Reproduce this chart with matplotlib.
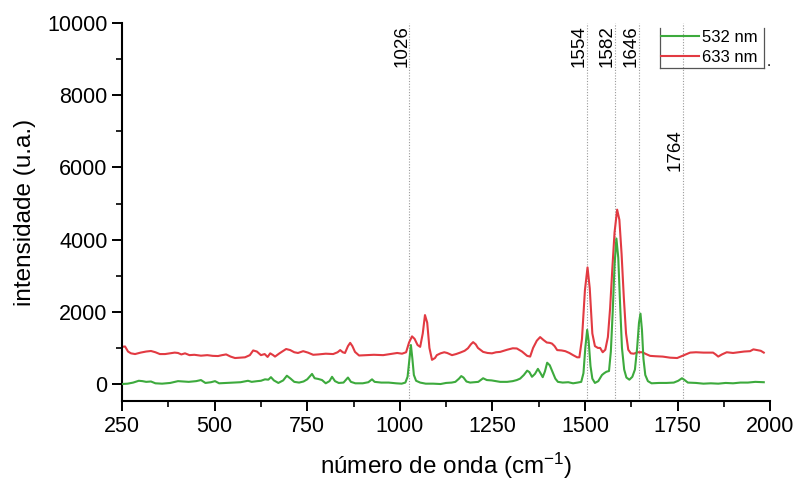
import matplotlib
matplotlib.use("Agg")
import matplotlib.pyplot as plt
from matplotlib.lines import Line2D
from matplotlib.ticker import MultipleLocator

plt.rcParams['font.family'] = ['Liberation Sans', 'DejaVu Sans']
plt.rcParams['mathtext.default'] = 'regular'

# ---- data ----
red_x = [250, 258, 266, 274, 285, 300, 315, 328, 340, 352, 366, 380, 392, 401, 410, 420, 432, 445, 463, 480,
         495, 509, 520, 531, 543, 555, 570, 582, 595, 604, 614, 625, 635, 643, 650, 658, 663, 675, 693, 704,
         715, 725, 739, 752, 766, 780, 800, 820, 832, 839, 846, 852, 860, 866, 872, 879, 890, 910, 930, 955,
         974, 993, 1006, 1017, 1025, 1033, 1040, 1048, 1055, 1062, 1068, 1074, 1080, 1087, 1095, 1100, 1110,
         1120, 1128, 1141, 1152, 1163, 1175, 1184, 1192, 1198, 1205, 1211, 1225, 1237, 1249, 1260, 1271, 1290,
         1305, 1316, 1330, 1344, 1352, 1360, 1370, 1379, 1388, 1397, 1405, 1411, 1418, 1425, 1437, 1447, 1458,
         1468, 1479, 1485, 1492, 1500, 1507, 1513, 1520, 1527, 1535, 1541, 1548, 1555, 1562, 1568, 1574, 1580,
         1587, 1593, 1599, 1605, 1611, 1617, 1624, 1632, 1642, 1655, 1665, 1676, 1690, 1710, 1730, 1749, 1765,
         1784, 1800, 1820, 1846, 1853, 1860, 1870, 1883, 1900, 1915, 1930, 1946, 1955, 1965, 1975, 1983]
red_y = [1030, 1040, 900, 850, 830, 870, 900, 915, 880, 830, 830, 850, 870, 860, 820, 850, 800, 810, 785, 800,
         780, 775, 800, 820, 760, 720, 730, 740, 800, 930, 900, 800, 830, 750, 850, 800, 760, 850, 970, 940,
         880, 860, 910, 870, 810, 820, 840, 830, 880, 940, 880, 860, 1050, 1140, 1050, 890, 790, 800, 810, 800,
         830, 860, 840, 880, 1150, 1320, 1250, 1080, 1030, 1400, 1910, 1700, 1000, 670, 720, 800, 850,
         880, 860, 800, 830, 870, 920, 990, 1100, 1160, 1100, 1000, 890, 860, 850, 880, 890, 950,
         990, 985, 900, 780, 760, 1000, 1200, 1300, 1220, 1150, 1140, 1120, 1050, 940, 930, 910, 860,
         800, 740, 740, 1250, 2600, 3230, 2650, 1400, 1050, 1000, 1000, 880, 950, 1300, 2100, 3200, 4200,
         4830, 4550, 3600, 2400, 1400, 950, 850, 840, 880, 880, 830, 780, 770, 760, 730, 720, 790,
         870, 880, 870, 870, 820, 760, 820, 880, 860, 880, 900, 910, 960, 940, 920, 870]

green_x = [250, 265, 280, 295, 305, 315, 328, 340, 358, 380, 401, 415, 430, 450, 463, 475, 490, 501, 512, 530,
           550, 570, 590, 600, 615, 625, 636, 645, 652, 660, 672, 685, 695, 705, 715, 728, 740, 750, 763, 770,
           780, 790, 800, 810, 817, 825, 835, 848, 860, 868, 880, 900, 915, 925, 932, 950, 970, 990, 1005, 1015,
           1021, 1026, 1030, 1034, 1038, 1044, 1055, 1070, 1090, 1110, 1125, 1140, 1150, 1160, 1166, 1172, 1180,
           1190, 1200, 1212, 1225, 1235, 1248, 1260, 1271, 1290, 1305, 1316, 1325, 1335, 1344, 1350, 1357, 1365,
           1373, 1380, 1386, 1392, 1398, 1405, 1414, 1420, 1427, 1440, 1455, 1468, 1480, 1490, 1496, 1501, 1506,
           1510, 1515, 1520, 1527, 1536, 1546, 1552, 1558, 1565, 1570, 1575, 1580, 1585, 1590, 1595, 1600, 1606,
           1612, 1620, 1628, 1635, 1641, 1646, 1650, 1654, 1658, 1663, 1670, 1680, 1700, 1720, 1740, 1752, 1762,
           1768, 1778, 1800, 1820, 1840, 1860, 1880, 1900, 1920, 1940, 1960, 1983]
green_y = [0, 10, 40, 90, 80, 60, 70, 20, 10, 30, 80, 70, 60, 80, 110, 30, 50, 80, 20, 30,
           40, 50, 90, 60, 80, 90, 130, 120, 190, 100, 30, 100, 230, 150, 60, 40, 70, 130, 280, 160,
           140, 110, 20, 80, 200, 80, 30, 40, 180, 60, 20, 20, 50, 130, 60, 40, 40, 20, 10, 40,
           200, 700, 1080, 700, 250, 90, 40, 10, 10, 0, 30, 40, 60, 150, 220, 180, 70,
           40, 50, 60, 160, 110, 100, 80, 60, 60, 80, 110, 150, 250, 370, 330, 200, 280,
           420, 300, 190, 350, 590, 520, 300, 150, 60, 40, 50, 20, 40, 60, 300, 1000, 1500,
           1200, 500, 150, 30, 80, 250, 300, 340, 360, 900, 2000, 3300, 4030, 3500, 2200, 1000, 400,
           180, 120, 200, 400, 1000, 1700, 1950, 1500, 700, 250, 80, 20, 30, 30, 40, 90, 160,
           120, 40, 30, 10, 20, 10, 30, 20, 40, 40, 60, 50]

peak_pos = [1026, 1505, 1582, 1646, 1764]
peak_labels = ["1026", "1554", "1582", "1646", "1764"]
peak_label_top = [9950, 9950, 9950, 9950, 7050]

series_labels = ["532 nm", "633 nm"]

# ---- figure ----
fig = plt.figure(figsize=(7.98, 4.84), dpi=100)
ax = fig.add_axes([0.153, 0.1715, 0.812, 0.781])

green_c = '#3daa3d'
red_c = '#e23a42'

for xp in peak_pos:
    ax.axvline(xp, color='#9a9a9a', lw=0.8, ls=(0, (1, 1.5)), zorder=1)

ax.plot(green_x, green_y, color=green_c, lw=1.5, zorder=3)
ax.plot(red_x, red_y, color=red_c, lw=1.5, zorder=2)

for xp, lab, yt in zip(peak_pos, peak_labels, peak_label_top):
    ax.text(xp + 2, yt, lab, rotation=90, ha='right', va='top', fontsize=13.5, color='black')

ax.set_xlim(250, 2000)
ax.set_ylim(-470, 10000)
ax.xaxis.set_major_locator(MultipleLocator(250))
ax.xaxis.set_minor_locator(MultipleLocator(125))
ax.yaxis.set_major_locator(MultipleLocator(2000))
ax.yaxis.set_minor_locator(MultipleLocator(1000))

for s in ['top', 'right']:
    ax.spines[s].set_visible(False)
for s in ['left', 'bottom']:
    ax.spines[s].set_linewidth(1.5)

ax.tick_params(axis='both', which='major', direction='out', length=7, width=1.4, labelsize=15.5)
ax.tick_params(axis='both', which='minor', direction='out', length=4, width=1.2)

ax.set_xlabel('número de onda (cm$^{-1}$)', fontsize=17.5, labelpad=10)
ax.set_ylabel('intensidade (u.a.)', fontsize=17.5, labelpad=8)

# legend (frame without top edge)
handles = [Line2D([], [], color=green_c, lw=1.5), Line2D([], [], color=red_c, lw=1.5)]
leg = fig.legend(handles, series_labels, loc='upper left', bbox_to_anchor=(0.826, 0.941),
                 frameon=False, fontsize=12, handlelength=2.3, handletextpad=0.2,
                 labelspacing=0.3, borderpad=0.1, borderaxespad=0)
x0, x1, y0, y1 = 0.827, 0.958, 0.860, 0.942
for xs, ys in [((x0, x0), (y0, y1)), ((x0, x1), (y0, y0)), ((x1, x1), (y0, y1))]:
    fig.add_artist(Line2D(xs, ys, color='#555555', lw=0.9, transform=fig.transFigure))
fig.text(0.961, 0.858, '.', fontsize=11, ha='left', va='bottom')

fig.savefig('out.png', dpi=100, facecolor='white')
